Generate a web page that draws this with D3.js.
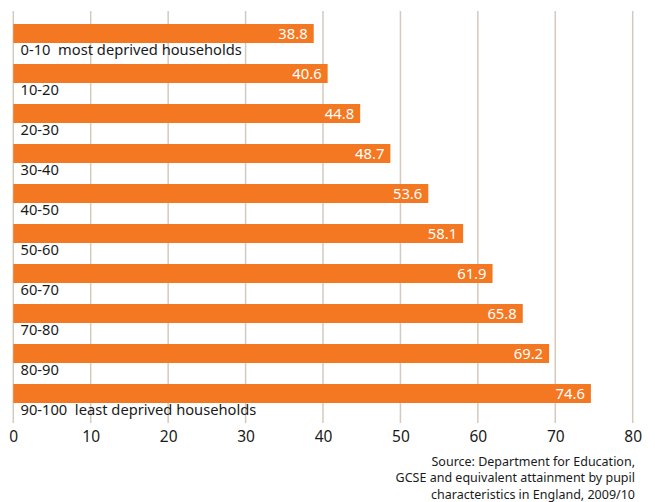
<!DOCTYPE html>
<html><head><meta charset="utf-8">
<script src="https://cdn.jsdelivr.net/npm/d3@7"></script>
<style>body{margin:0;background:#fff}svg{display:block;font-family:"Noto Sans",sans-serif}</style>
</head><body><svg id="c" width="655" height="502"></svg>
<script>
const categories = ["0-10  most deprived households","10-20","20-30","30-40","40-50","50-60","60-70","70-80","80-90","90-100  least deprived households"];
const values = [38.8,40.6,44.8,48.7,53.6,58.1,61.9,65.8,69.2,74.6];
const ticks = [0,10,20,30,40,50,60,70,80];
const sourceLines = ["Source: Department for Education,","GCSE and equivalent attainment by pupil","characteristics in England, 2009/10"];

const svg = d3.select("#c");
const x = d3.scaleLinear().domain([0,80]).range([13.3,632.7]);
const y = d3.scaleBand().domain(categories).range([24,424]).padding(0);
const barH = y.bandwidth()*0.475;

svg.append("g").selectAll("line").data(ticks).join("line")
  .attr("x1",d=>x(d)).attr("x2",d=>x(d)).attr("y1",11).attr("y2",423)
  .attr("stroke","#d3cabd").attr("stroke-width",1.5);

svg.append("g").selectAll("rect").data(values).join("rect")
  .attr("x",x(0)).attr("y",(d,i)=>y(categories[i]))
  .attr("width",d=>x(d)-x(0)).attr("height",barH).attr("fill","#f47721");

svg.append("g").selectAll("text").data(values).join("text")
  .attr("x",d=>x(d)-6).attr("y",(d,i)=>y(categories[i])+14.5)
  .attr("text-anchor","end").attr("fill","#fff").attr("font-size",14.8)
  .text(d=>d.toFixed(1));

svg.append("g").selectAll("text").data(categories).join("text")
  .attr("x",20.5).attr("y",d=>y(d)+31)
  .attr("fill","#1a1a1a").attr("font-size",14.7)
  .style("white-space","pre")
  .text(d=>d);

const ax = d3.axisBottom(x).tickValues(ticks).tickSize(0).tickPadding(0).tickFormat(d3.format("d"));
const ag = svg.append("g").attr("transform","translate(0,427)").call(ax);
ag.select(".domain").remove();
ag.selectAll("text").attr("font-size",15.5).attr("fill","#1a1a1a").attr("dy","0.71em").attr("y",3.5)
  .style("font-family","'Noto Sans',sans-serif");

svg.append("g").selectAll("text").data(sourceLines).join("text")
  .attr("x",635).attr("y",(d,i)=>466+i*16.3).attr("text-anchor","end")
  .attr("font-size",12.5).attr("fill","#1a1a1a").text(d=>d);
</script></body></html>
